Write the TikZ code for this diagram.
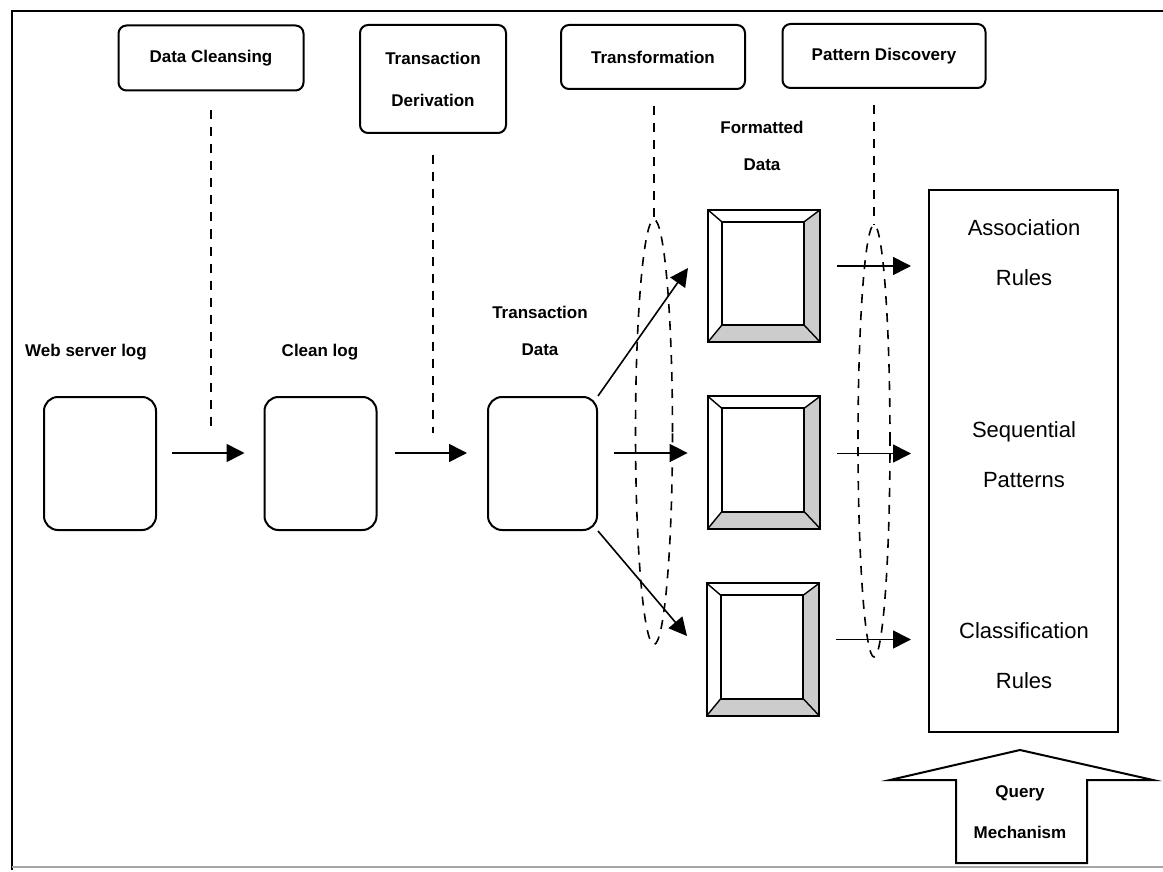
\documentclass[tikz,border=0pt]{standalone}
\usepackage{fontspec}
\setmainfont{Liberation Sans}
\usetikzlibrary{arrows.meta,calc,shapes.geometric}
\newcommand\bevelframe[1]{%
  \fill[black!20] (#1.north east) -- (#1.south east) -- ($(#1.south east)+(-16,-17)$) -- ($(#1.north east)+(-16,12)$) -- cycle;
  \fill[black!20] (#1.south west) -- (#1.south east) -- ($(#1.south east)+(-16,-17)$) -- ($(#1.south west)+(14,-17)$) -- cycle;
  \draw[line width=0.7pt] (#1.north west) -- ++(14,12) (#1.north east) -- ++(-16,12) (#1.south west) -- ++(14,-17) (#1.south east) -- ++(-16,-17);
  \draw[line width=1pt] ($(#1.north west)+(14,12)$) rectangle ($(#1.south east)+(-16,-17)$);
  \draw[line width=1pt] (#1.north west) rectangle (#1.south east);
}
\begin{document}
\begin{tikzpicture}[x=0.5pt,y=-0.5pt,
  lbl/.style={font=\bfseries\fontsize{8.5}{18.5}\selectfont, align=center, inner sep=0pt},
  rlbl/.style={font=\fontsize{11}{25}\selectfont, align=center, inner sep=0pt},
  topbox/.style={draw, line width=1pt, rounded corners=4pt, font=\bfseries\fontsize{8.5}{21}\selectfont, align=center, inner sep=0pt},
  logbox/.style={draw, line width=1pt, rounded corners=7pt, minimum width=56pt, minimum height=66.5pt, inner sep=0pt},
  fbox/.style={minimum width=56pt, minimum height=66pt, inner sep=0pt},
  arr/.style={line width=0.8pt, -{Triangle[length=9pt,width=9pt]}},
  dline/.style={line width=0.8pt, dash pattern=on 4.5pt off 4pt},
]
\useasboundingbox (0,0) rectangle (1163,872);
% outer frame
\draw[line width=1pt] (12,870) -- (12,11) -- (1163,11);
\draw[black!35, line width=0.6pt] (12,867) -- (1163,867);

% top process boxes
\node[topbox, minimum width=92.5pt, minimum height=32.5pt] (dc) at (211,58) {Data Cleansing};
\node[topbox, minimum width=73pt, minimum height=54pt] (td) at (433,79) {Transaction\\Derivation};
\node[topbox, minimum width=92pt, minimum height=32pt] (tf) at (653,57) {Transformation};
\node[topbox, minimum width=101.5pt, minimum height=32pt] (pd) at (884,56) {Pattern Discovery};

% log boxes
\node[logbox] (wl) at (100,463.5) {};
\node[logbox] (cl) at (320.5,463.5) {};
\node[logbox, minimum width=54.5pt] (tdata) at (542.5,463.5) {};

% labels
\node[lbl] (wlt) at (86,352) {Web server log};
\node[lbl] (clt) at (320,352) {Clean log};
\node[lbl] (tdt) at (540,331) {Transaction\\Data};
\node[lbl] (fdt) at (762,146) {Formatted\\Data};

% formatted data frames
\node[fbox] (f1) at (764,276) {};
\node[fbox] (f2) at (764,462.5) {};
\node[fbox] (f3) at (763,649.5) {};
\bevelframe{f1}
\bevelframe{f2}
\bevelframe{f3}

% result box
\node[draw, line width=1pt, minimum width=94.5pt, minimum height=271pt, inner sep=0pt] (rb) at (1023.5,461) {};
\node[rlbl] (ar) at (1024,253) {Association\\Rules};
\node[rlbl] (sp) at (1024,455) {Sequential\\Patterns};
\node[rlbl] (cr) at (1024,656) {Classification\\Rules};

% query mechanism arrow
\draw[line width=1pt] (956,863) -- (956,780) -- (890,780) -- (1020,750) -- (1153,780) -- (1087,780) -- (1087,863) -- cycle;
\node[font=\bfseries\fontsize{8.5}{20.5}\selectfont, align=center, inner sep=0pt] (qm) at (1020,812) {Query\\Mechanism};

% dashed control lines
\coordinate (dcend) at (211,433);
\coordinate (tdend) at (433,433);
\draw[dline, shorten <=9.5pt] (dc.south) -- (dcend);
\draw[dline, shorten <=10.5pt] (td.south) -- (tdend);
\node[draw, dline, ellipse, minimum width=18.5pt, minimum height=212.5pt, inner sep=0pt] (lpL) at (654,432) {};
\node[draw, dline, ellipse, minimum width=16pt, minimum height=216pt, inner sep=0pt] (lpR) at (874,441) {};
\draw[dline, shorten <=8pt] (lpL.north |- tf.south) -- (lpL.north);
\draw[dline, shorten <=8pt] (lpR.north |- pd.south) -- (lpR.north);

% flow arrows
\coordinate (rowM) at (0,453);
\draw[arr, shorten <=7.5pt, shorten >=9.5pt] (wl.east |- rowM) -- (cl.west |- rowM);
\draw[arr, shorten <=8.5pt, shorten >=10pt] (cl.east |- rowM) -- (tdata.west |- rowM);
\coordinate (f1in) at (688,268);
\coordinate (f3in) at (687,636);
\draw[arr] (tdata.north east) -- (f1in);
\draw[arr] (tdata.south east) -- (f3in);
\draw[arr, shorten <=8pt, shorten >=10pt] (tdata.east |- rowM) -- (f2.west |- rowM);
\coordinate (r1) at ([yshift=5pt]f1.east);
\coordinate (r2) at ([yshift=4.5pt]f2.east);
\coordinate (r3) at ([yshift=5pt]f3.east);
\draw[arr, shorten <=8.5pt, shorten >=8.5pt] (r1) -- (rb.west |- r1);
\draw[arr, shorten <=8.5pt, shorten >=8.5pt] (r2) -- (rb.west |- r2);
\draw[arr, shorten <=8.5pt, shorten >=8.5pt] (r3) -- (rb.west |- r3);
\end{tikzpicture}
\end{document}
